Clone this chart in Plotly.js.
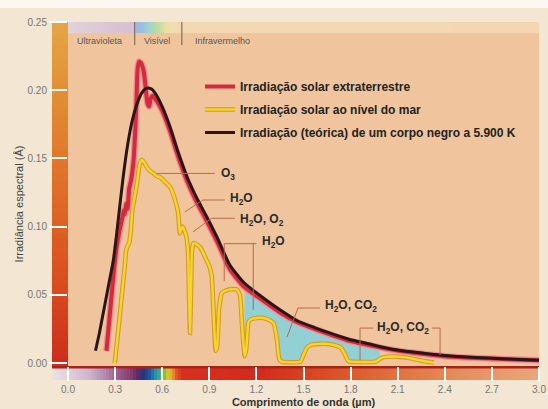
<!DOCTYPE html>
<html><head><meta charset="utf-8">
<script src="https://cdn.plot.ly/plotly-3.0.1.min.js"></script>
<style>html,body{margin:0;padding:0;background:#f3e6d2;}#chart{width:548px;height:409px;}</style>
</head><body><div id="chart"></div>
<script>
// ---- data (wavelength in µm, irradiance) ----
const extraWl = [0.245,0.27,0.29,0.31,0.33,0.345,0.355,0.362,0.372,0.38,0.39,0.40,0.41,0.42,0.43,0.437,0.443,0.452,0.465,0.478,0.488,0.497,0.507,0.517,0.527,0.54,0.56,0.60,0.65,0.70,0.76,0.82,0.88,0.95,1.03,1.12,1.24,1.35,1.46,1.57,1.68,1.80,1.90,2.05,2.20,2.40,2.60,2.80,3.00];
const extraIrr = [0.009,0.040,0.065,0.085,0.098,0.106,0.112,0.109,0.117,0.113,0.128,0.133,0.140,0.152,0.175,0.195,0.215,0.221,0.220,0.216,0.209,0.199,0.190,0.188,0.194,0.196,0.193,0.185,0.170,0.152,0.133,0.118,0.105,0.089,0.069,0.056,0.046,0.037,0.030,0.025,0.0205,0.016,0.0135,0.010,0.0075,0.005,0.0037,0.0028,0.002];

const seaWl = [0.298,0.31,0.33,0.35,0.36,0.37,0.38,0.39,0.40,0.41,0.425,0.44,0.455,0.47,0.485,0.50,0.52,0.545,0.565,0.59,0.615,0.635,0.655,0.675,0.69,0.70,0.706,0.712,0.72,0.73,0.745,0.755,0.765,0.772,0.777,0.783,0.79,0.80,0.82,0.84,0.86,0.88,0.90,0.915,0.928,0.94,0.95,0.962,0.978,0.985,1.03,1.075,1.095,1.11,1.125,1.135,1.15,1.165,1.20,1.245,1.29,1.31,1.33,1.345,1.36,1.48,1.50,1.52,1.55,1.60,1.65,1.70,1.74,1.765,1.785,1.80,1.96,1.985,2.01,2.06,2.12,2.18,2.24,2.29,2.33];
const seaIrr = [0,0.013,0.035,0.058,0.069,0.082,0.086,0.088,0.097,0.113,0.122,0.132,0.145,0.149,0.147,0.144,0.141,0.139,0.137,0.136,0.133,0.131,0.128,0.122,0.116,0.111,0.104,0.095,0.098,0.100,0.096,0.092,0.080,0.045,0.022,0.050,0.083,0.088,0.087,0.085,0.081,0.076,0.071,0.064,0.035,0.009,0.012,0.040,0.051,0.052,0.054,0.054,0.050,0.025,0.005,0.010,0.030,0.032,0.033,0.033,0.031,0.029,0.018,0.003,0.001,0.001,0.006,0.011,0.0135,0.014,0.014,0.013,0.011,0.006,0.0015,0.001,0.001,0.003,0.0043,0.0048,0.0045,0.0035,0.002,0.001,0.0003];

const bbWl = [0.175,0.20,0.23,0.26,0.29,0.32,0.35,0.38,0.41,0.44,0.47,0.50,0.53,0.56,0.60,0.65,0.70,0.76,0.82,0.88,0.95,1.03,1.12,1.24,1.35,1.46,1.57,1.68,1.80,1.90,2.05,2.20,2.40,2.60,2.80,3.00];
const bbIrr = [0.009,0.022,0.040,0.058,0.076,0.105,0.135,0.160,0.178,0.190,0.198,0.2015,0.201,0.197,0.188,0.173,0.155,0.136,0.121,0.108,0.092,0.072,0.059,0.048,0.039,0.031,0.026,0.0215,0.017,0.0145,0.0105,0.008,0.0055,0.004,0.003,0.002];

// absorption band (filled between extraterrestrial and sea-level curves)
const absorptionBands = [[1.125, 1.985]];

const xTicks = [0,0.3,0.6,0.9,1.2,1.5,1.8,2.1,2.4,2.7,3.0];
const yTicks = [0,0.05,0.10,0.15,0.20,0.25];

const seriesNames = ['Irradiação solar extraterrestre','Irradiação solar ao nível do mar','Irradiação (teórica) de um corpo negro a 5.900 K'];

const absorberLabels = ['O<sub>3</sub>','H<sub>2</sub>O','H<sub>2</sub>O, O<sub>2</sub>','H<sub>2</sub>O','H<sub>2</sub>O, CO<sub>2</sub>','H<sub>2</sub>O, CO<sub>2</sub>'];
const regionLabels = ['Ultravioleta','Visível','Infravermelho'];

// ---- helpers ----
function interp(xs, ys, x){
  if (x <= xs[0]) return ys[0];
  if (x >= xs[xs.length-1]) return ys[ys.length-1];
  for (let i=1;i<xs.length;i++){
    if (x <= xs[i]){ const t=(x-xs[i-1])/(xs[i]-xs[i-1]); return ys[i-1]+t*(ys[i]-ys[i-1]); }
  }
}
const bandTraces = absorptionBands.map(([a,b])=>{
  const xsSet = new Set([a,b]);
  extraWl.forEach(v=>{ if(v>a&&v<b) xsSet.add(v); });
  seaWl.forEach(v=>{ if(v>a&&v<b) xsSet.add(v); });
  const xs = Array.from(xsSet).sort((p,q)=>p-q);
  const top = xs.map(x=>interp(extraWl, extraIrr, x));
  const bot = xs.map(x=>interp(seaWl, seaIrr, x));
  return {x: xs.concat(xs.slice().reverse()), y: top.concat(bot.slice().reverse()),
    type:'scatter', mode:'lines', fill:'toself', fillcolor:'#92d0d6',
    line:{width:0}, showlegend:false, hoverinfo:'skip'};
});

// ---- layout geometry ----
const W=548,H=409,L=68,R=9,T=22,B=43;
const PW=W-L-R, PH=H-T-B;
const px2x = p => (p-L)/PW;
const py2y = p => (H-B-p)/PH;

function hex2rgb(h){return [parseInt(h.slice(1,3),16),parseInt(h.slice(3,5),16),parseInt(h.slice(5,7),16)];}
function colorAt(stops, p){
  if (p<=stops[0][0]) return stops[0][1];
  for(let i=1;i<stops.length;i++){
    if(p<=stops[i][0]){
      const t=(p-stops[i-1][0])/(stops[i][0]-stops[i-1][0]);
      const a=hex2rgb(stops[i-1][1]), b=hex2rgb(stops[i][1]);
      return 'rgb('+a.map((v,k)=>Math.round(v+t*(b[k]-v))).join(',')+')';
    }
  }
  return stops[stops.length-1][1];
}
const shapes=[];
function hBar(stops, x0, x1, y0, y1, step){
  for(let p=x0;p<x1;p+=step){
    shapes.push({type:'rect',xref:'paper',yref:'paper',layer:'below',
      x0:px2x(p),x1:px2x(Math.min(p+step+0.6,x1)),y0:py2y(y1),y1:py2y(y0),
      fillcolor:colorAt(stops,p+step/2),line:{width:0}});
  }
}
function vBar(stops, x0, x1, y0, y1, step){
  for(let p=y0;p<y1;p+=step){
    shapes.push({type:'rect',xref:'paper',yref:'paper',layer:'below',
      x0:px2x(x0),x1:px2x(x1),y0:py2y(Math.min(p+step+0.6,y1)),y1:py2y(p),
      fillcolor:colorAt(stops,p+step/2),line:{width:0}});
  }
}
shapes.push({type:'rect',xref:'paper',yref:'paper',layer:'below',x0:px2x(0),x1:px2x(W),y0:py2y(8),y1:py2y(0),fillcolor:'#fbf8f2',line:{width:0}});
vBar([[22,'#e4a646'],[100,'#e18c34'],[200,'#de6a26'],[290,'#d84a20'],[366,'#cc2c1c']],52,68,22,366,4);
hBar([[52,'#ece2e2'],[68,'#e0d0dc'],[90,'#cdb2cc'],[105,'#b08ab0'],[118,'#985e90'],[130,'#87406f'],[138,'#5a2a68'],[144,'#22367e'],[150,'#1e5aa0'],[155,'#2090b0'],[159,'#38a898'],[163,'#6cb848'],[168,'#d8cc28'],[172,'#e8a030'],[176,'#e25a28'],[182,'#d8301e'],[260,'#d42a1c'],[300,'#d6401f'],[350,'#dc5a2c'],[400,'#e07440'],[450,'#e48a58'],[500,'#e89a6c'],[539,'#eaa47c']],52,539,368,380,3);
shapes.push({type:'rect',xref:'paper',yref:'paper',layer:'below',x0:px2x(52),x1:px2x(539),y0:py2y(368.5),y1:py2y(366),fillcolor:'#a82218',line:{width:0}});
hBar([[68,'#e2d2da'],[134,'#d6bfd0'],[136,'#aab4de'],[143,'#98c2e2'],[150,'#a2d4d0'],[158,'#bcdca2'],[165,'#e4e0a2'],[172,'#f2dcb2'],[182,'#f4d8b4'],[539,'#f4d6b2']],68,539,22,33,2);
[0.425,0.725].forEach(v=>shapes.push({type:'line',xref:'x',yref:'paper',x0:v,x1:v,y0:py2y(45),y1:1,line:{color:'#6e5a50',width:1}}));

const lead = {color:'#b86a4a',width:1};
['M0.565,0.139L0.936,0.139',
 'M0.744,0.1107L0.859,0.1195L0.999,0.1195',
 'M0.797,0.0962L0.915,0.1061L1.063,0.1061',
 'M0.995,0.060L0.995,0.0875L1.20,0.0875M1.18,0.0875L1.18,0.039',
 'M1.395,0.0191L1.465,0.0403L1.605,0.0403',
 'M1.86,0.002L1.86,0.0256L1.945,0.0256M2.32,0.0256L2.37,0.0256L2.37,0.0059'
].forEach(p=>shapes.push({type:'path',xref:'x',yref:'y',path:p,line:lead,layer:'above'}));

const labelPos = [[0.961,0.1386],[1.018,0.1205],[1.082,0.1045],[1.222,0.0887],[1.624,0.0418],[1.956,0.0253]];
const annotations = absorberLabels.map((t,i)=>({x:labelPos[i][0],y:labelPos[i][1],xref:'x',yref:'y',text:t,showarrow:false,
  xanchor:'left',yanchor:'middle',font:{family:'Liberation Sans, Arial, sans-serif',size:12,color:'#2a2a2a',weight:'bold'}}));
const regionPos=[[0.202,'center'],[0.569,'center'],[0.795,'left']];
regionLabels.forEach((t,i)=>annotations.push({x:regionPos[i][0],y:py2y(41),xref:'x',yref:'paper',text:t,showarrow:false,
  xanchor:regionPos[i][1],yanchor:'middle',font:{family:'Liberation Sans, Arial, sans-serif',size:9,color:'#555'}}));

const traces = bandTraces.concat([
  {x:seaWl,y:seaIrr,type:'scatter',mode:'lines',line:{color:'#d49a2a',width:4.6,shape:'spline',smoothing:0.4},showlegend:false,hoverinfo:'skip'},
  {x:seaWl,y:seaIrr,type:'scatter',mode:'lines',name:seriesNames[1],legendgroup:'b',legendrank:2,line:{color:'#f7d62a',width:2.4,shape:'spline',smoothing:0.4}},
  {x:extraWl,y:extraIrr,type:'scatter',mode:'lines',line:{color:'#ee8e94',width:6.5,shape:'spline',smoothing:0.5},showlegend:false,hoverinfo:'skip'},
  {x:extraWl,y:extraIrr,type:'scatter',mode:'lines',name:seriesNames[0],legendgroup:'a',legendrank:1,line:{color:'#d42a3c',width:4,shape:'spline',smoothing:0.5}},
  {x:bbWl,y:bbIrr,type:'scatter',mode:'lines',name:seriesNames[2],legendgroup:'c',legendrank:3,line:{color:'#2a1616',width:3,shape:'spline',smoothing:0.6}}
]);

const tickFont={family:'Liberation Sans, Arial, sans-serif',size:10,color:'#767676'};
const layout = {
  width:W,height:H,margin:{l:L,r:R,t:T,b:B,pad:0},
  paper_bgcolor:'#f3e6d2',plot_bgcolor:'#f0c59d',
  showlegend:true,
  legend:{x:px2x(200),y:py2y(72),xanchor:'left',yanchor:'top',bgcolor:'rgba(0,0,0,0)',tracegroupgap:4,
    font:{family:'Liberation Sans, Arial, sans-serif',size:12,color:'#222',weight:'bold'}},
  xaxis:{range:[0,3.0],tickvals:xTicks,ticktext:xTicks.map(v=>v.toFixed(1)),ticks:'outside',ticklen:14,tickwidth:2,tickcolor:'#ffffff',
    showgrid:false,zeroline:false,showline:false,tickfont:tickFont,automargin:false,fixedrange:true,
    title:{text:'Comprimento de onda (µm)',standoff:4,font:{family:'Liberation Sans, Arial, sans-serif',size:11,color:'#333',weight:'bold'}}},
  yaxis:{range:[-3/1364,0.25],tickvals:yTicks,ticktext:yTicks.map(v=>v.toFixed(2)),ticks:'outside',ticklen:18,tickwidth:2,tickcolor:'#ffffff',
    showgrid:false,zeroline:false,showline:false,tickfont:tickFont,automargin:false,fixedrange:true,
    title:{text:'Irradiância espectral (Å)',standoff:0,font:{family:'Liberation Sans, Arial, sans-serif',size:11,color:'#444'}}},
  shapes:shapes,annotations:annotations
};
Plotly.newPlot('chart',traces,layout,{displayModeBar:false}).then(gd=>{
  // give the sea-level legend sample the same orange outline as its curve
  gd.querySelectorAll('.legend .traces').forEach(it=>{
    const t = it.querySelector('.legendtext');
    if (t && t.textContent === seriesNames[1]) {
      const p = it.querySelector('.legendlines path');
      if (p) { const c = p.cloneNode(); c.style.stroke = '#d49a2a'; c.style.strokeWidth = '4.6px'; p.parentNode.insertBefore(c, p); }
    }
  });
  // nudge the y title to where the reference prints it
  const yt = gd.querySelector('.ytitle');
  if (yt) {
    const tx = 23, ty = 204;
    yt.setAttribute('x', tx); yt.setAttribute('y', ty);
    yt.setAttribute('transform', 'rotate(-90,' + tx + ',' + ty + ')');
  }
});
</script></body></html>
